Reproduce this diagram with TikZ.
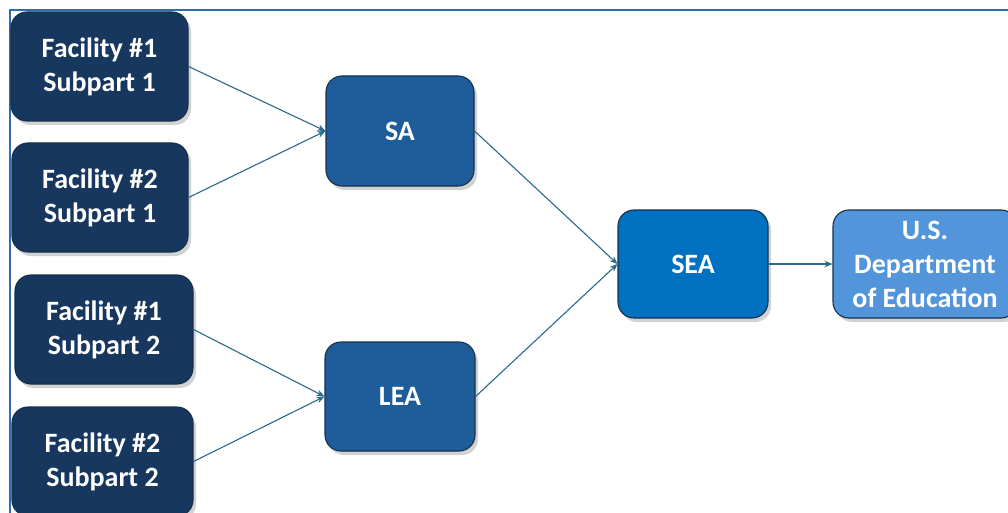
\documentclass[tikz,border=0pt]{standalone}
\usepackage{fontspec}
\setmainfont{Carlito}
\usetikzlibrary{arrows.meta,shadows}
\definecolor{navy}{HTML}{17375E}
\definecolor{midblue}{HTML}{1F5C9A}
\definecolor{seablue}{HTML}{0070C0}
\definecolor{lightblue}{HTML}{5395DA}
\definecolor{edgecol}{HTML}{15304D}
\definecolor{arrowcol}{HTML}{2A6A8C}
\definecolor{framecol}{HTML}{2E6DB4}
\tikzset{
  box/.style={draw=edgecol, line width=1.1pt, rounded corners=16pt, text=white,
    font=\bfseries\fontsize{28}{34}\selectfont, align=center, inner sep=0pt,
    drop shadow={opacity=0.35, shadow xshift=3pt, shadow yshift=-4pt}},
  facbox/.style={box, fill=navy},
  midbox/.style={box, fill=midblue},
  seabox/.style={box, fill=seablue},
  doebox/.style={box, fill=lightblue},
  conn/.style={draw=arrowcol, line width=1.1pt, -{Stealth[length=8pt,width=6.5pt]}}
}
\begin{document}
\begin{tikzpicture}[x=1pt,y=-1pt]
\useasboundingbox (0,0) rectangle (1008,513);
\clip (0,0) rectangle (1008,513);
\fill[white] (0,0) rectangle (1008,513);
\draw[framecol, line width=1.3pt] (10,530) -- (10,10) -- (1020,10);
\node[facbox, minimum width=177pt, minimum height=109pt] (f11) at (99.5,66.5) {Facility \#1\\Subpart 1};
\node[facbox, minimum width=176pt, minimum height=109pt] (f21) at (100,197.5) {Facility \#2\\Subpart 1};
\node[facbox, minimum width=178pt, minimum height=109pt] (f12) at (104,329.5) {Facility \#1\\Subpart 2};
\node[facbox, minimum width=181pt, minimum height=109pt] (f22) at (102.5,461.5) {Facility \#2\\Subpart 2};
\node[midbox, minimum width=148pt, minimum height=110pt] (sa) at (400,131) {SA};
\node[midbox, minimum width=150pt, minimum height=109pt] (lea) at (400,396.5) {LEA};
\node[seabox, minimum width=150pt, minimum height=108pt] (sea) at (693,264) {SEA};
\node[doebox, minimum width=184pt, minimum height=108pt] (doe) at (925,264) {U.S.\\Department\\of Education};
\draw[conn] (f11.east) -- (sa.west);
\draw[conn] (f21.east) -- (sa.west);
\draw[conn] (f12.east) -- (lea.west);
\draw[conn] (f22.east) -- (lea.west);
\draw[conn] (sa.east) -- (sea.west);
\draw[conn] (lea.east) -- (sea.west);
\draw[conn] (sea.east) -- (doe.west);
\end{tikzpicture}
\end{document}
